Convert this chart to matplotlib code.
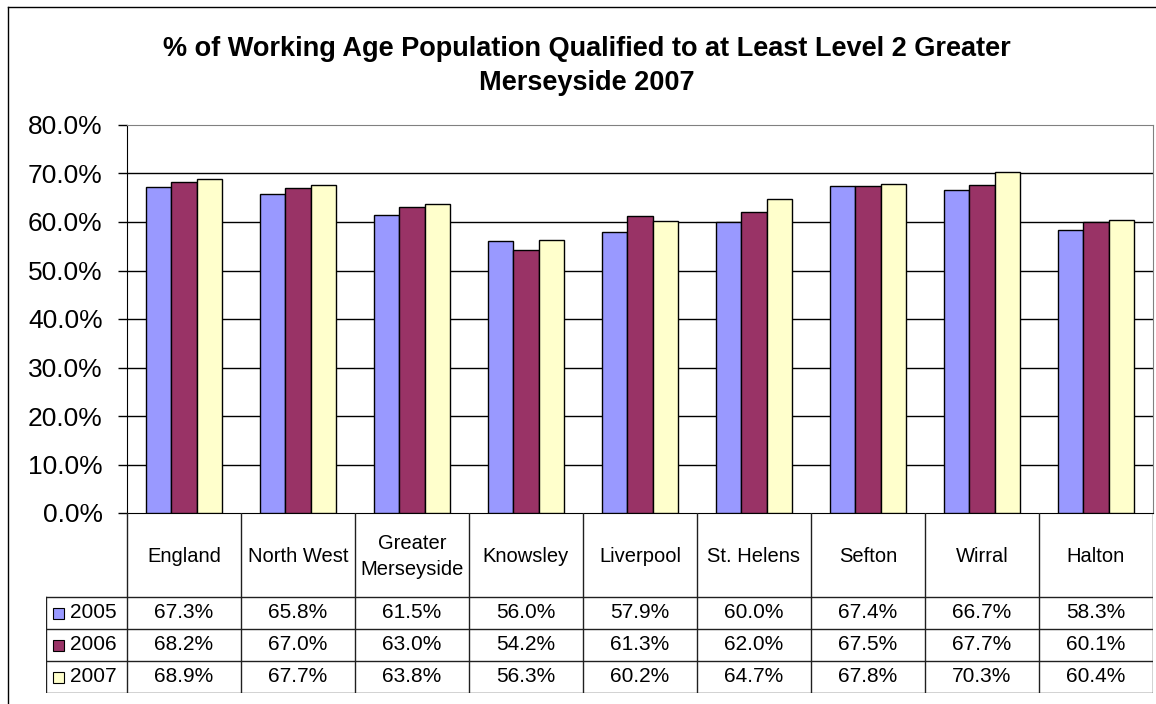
import numpy as np
import matplotlib
matplotlib.use("Agg")
import matplotlib.pyplot as plt
from matplotlib.lines import Line2D
from matplotlib.patches import Rectangle

plt.rcParams['font.family'] = ['Liberation Sans', 'DejaVu Sans']

# ---------------------------------------------------------------- #
#                               Data                               #
# ---------------------------------------------------------------- #

areas = ['England', 'North West', 'Greater\nMerseyside', 'Knowsley', 'Liverpool',
         'St. Helens', 'Sefton', 'Wirral', 'Halton']
years = ['2005', '2006', '2007']
vals_2005 = [67.3, 65.8, 61.5, 56.0, 57.9, 60.0, 67.4, 66.7, 58.3]
vals_2006 = [68.2, 67.0, 63.0, 54.2, 61.3, 62.0, 67.5, 67.7, 60.1]
vals_2007 = [68.9, 67.7, 63.8, 56.3, 60.2, 64.7, 67.8, 70.3, 60.4]
colors = ['#9999FF', '#993366', '#FFFFCC']

title = '% of Working Age Population Qualified to at Least Level 2 Greater\nMerseyside 2007'

series = [vals_2005, vals_2006, vals_2007]

# ---------------------------------------------------------------- #
#                              Layout                              #
# ---------------------------------------------------------------- #

W, H = 1156, 704
fig = plt.figure(figsize=(W / 100, H / 100), dpi=100)
fig.patch.set_facecolor('white')

# plot area in pixels
px_left, px_right, px_top, px_bottom = 127, 1153, 125, 513
ax = fig.add_axes([px_left / W, (H - px_bottom) / H,
                   (px_right - px_left) / W, (px_bottom - px_top) / H])

n = len(areas)
x = np.arange(n)
bw = 1 / 4.5  # excel gap width 150%

for i, (vals, c) in enumerate(zip(series, colors)):
    ax.bar(x + (i - 1) * bw, vals, bw, color=c, edgecolor='black', linewidth=1, zorder=3)

ax.set_xlim(-0.5, n - 0.5)
ax.set_ylim(0, 80)
ax.set_yticks(np.arange(0, 81, 10))
ax.set_yticklabels([f'{v:.1f}%' for v in np.arange(0, 81, 10)], fontsize=19)
ax.tick_params(axis='y', direction='out', length=6.5, width=1, pad=11, color='black')
ax.set_xticks([])
for v in np.arange(10, 80, 10):
    ax.axhline(v, color='black', lw=1, zorder=1)
ax.spines['left'].set_color('black')
ax.spines['bottom'].set_color('black')
ax.spines['top'].set_color('#808080')
ax.spines['right'].set_color('#808080')

fig.text(587 / W, 1 - 66 / H, title, ha='center', va='center',
         fontsize=19.5, fontweight='bold', linespacing=1.42)

# ---------------------------------------------------------------- #
#                            Data table                            #
# ---------------------------------------------------------------- #

tbl_left, tbl_bottom = 46, 693
head_h, row_h = 84, 32
cat_px = (px_right - px_left) / n
x_left = -0.5 - (px_left - tbl_left) / cat_px

tax = fig.add_axes([tbl_left / W, (H - tbl_bottom) / H,
                    (px_right - tbl_left) / W, (tbl_bottom - px_bottom) / H])
tax.set_xlim(x_left, n - 0.5)
total_h = head_h + row_h * len(years)
tax.set_ylim(total_h, 0)
tax.axis('off')

lc = '#202020'
for k in range(n + 1):
    tax.plot([k - 0.5, k - 0.5], [0, total_h], color=lc, lw=1)
tax.plot([x_left, x_left], [head_h, total_h], color=lc, lw=1)
for r in range(len(years) + 1):
    y = head_h + r * row_h
    tax.plot([x_left, n - 0.5], [y, y], color=lc, lw=1)

for k, name in enumerate(areas):
    tax.text(k, head_h / 2 + 1.5, name, ha='center', va='center', fontsize=14.5, linespacing=1.45)

sw = 0.095
for r, (yr, vals, c) in enumerate(zip(years, series, colors)):
    yc = head_h + (r + 0.5) * row_h
    tax.add_patch(Rectangle((x_left + 0.06, yc - 5.5), sw, 11, facecolor=c,
                            edgecolor='black', lw=0.8))
    tax.text(x_left + 0.21, yc, yr, ha='left', va='center', fontsize=15)
    for k, v in enumerate(vals):
        tax.text(k, yc, f'{v:.1f}%', ha='center', va='center', fontsize=15)

# outer chart border
fig.add_artist(Line2D([8 / W, 8 / W], [0, 1 - 7 / H], color='black', lw=1))
fig.add_artist(Line2D([8 / W, 1], [1 - 7 / H, 1 - 7 / H], color='black', lw=1))

fig.savefig('out.png', dpi=100)
